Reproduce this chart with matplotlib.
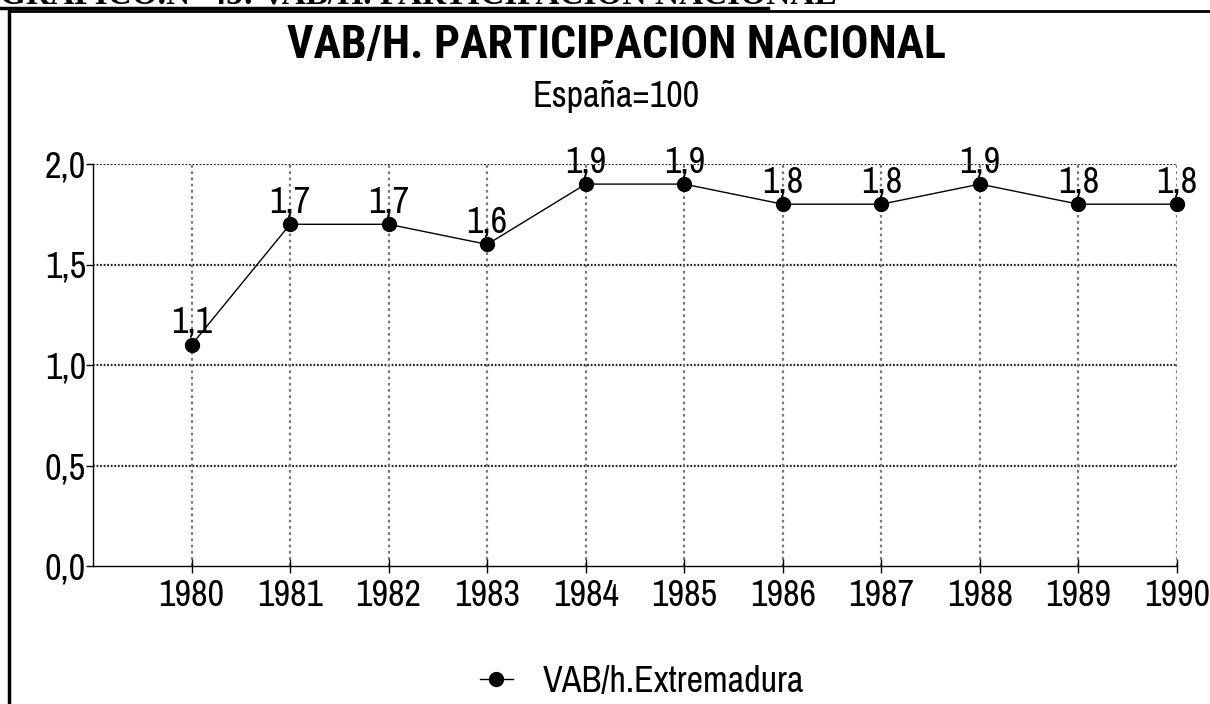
import matplotlib
matplotlib.use("Agg")
import matplotlib.pyplot as plt
from matplotlib.lines import Line2D

years = [1980, 1981, 1982, 1983, 1984, 1985, 1986, 1987, 1988, 1989, 1990]
values = [1.1, 1.7, 1.7, 1.6, 1.9, 1.9, 1.8, 1.8, 1.9, 1.8, 1.8]
yticks = [0.0, 0.5, 1.0, 1.5, 2.0]
ytick_labels = ["0,0", "0,5", "1,0", "1,5", "2,0"]
value_labels = [f"{v:.1f}".replace(".", ",") for v in values]
series_name = "VAB/h.Extremadura"
title = "VAB/H. PARTICIPACION NACIONAL"
subtitle = "España=100"
header = "GRAFICO.Nº 45: VAB/H. PARTICIPACION NACIONAL"

sans = ["Archivo Narrow", "Liberation Sans", "DejaVu Sans"]
sans_bold = ["Roboto Condensed", "PT Sans Narrow", "Liberation Sans", "DejaVu Sans"]
serif = ["Liberation Serif", "DejaVu Serif"]
FS = 26

fig = plt.figure(figsize=(12.1, 7.04), dpi=100)
W, H = 1210, 704

def fx(px):
    return px / W

def fy(py):
    return 1 - py / H

ax = fig.add_axes([fx(93), fy(566), fx(1177) - fx(93), fy(164) - fy(566)])
ax.set_xlim(1979.0, 1990)
ax.set_ylim(0, 2.0)

ax.plot(years, values, color="black", lw=1, marker="o", markersize=10,
        markerfacecolor="black", markeredgecolor="black", zorder=3, clip_on=False)
for x, y, lab in zip(years, values, value_labels):
    ax.annotate(lab, (x, y), xytext=(0, 8.6), textcoords="offset points",
                ha="center", va="baseline", fontsize=FS, family=sans, zorder=4)

ax.set_xticks(years)
ax.set_xticklabels([str(y) for y in years], fontsize=FS, family=sans)
ax.set_yticks(yticks)
ax.set_yticklabels(ytick_labels, fontsize=FS, family=sans)
ax.tick_params(axis="x", direction="inout", length=10, width=1, pad=4)
ax.tick_params(axis="y", direction="out", length=5, width=1, pad=0)

for yv in yticks[1:]:
    ax.axhline(yv, color="#222222", lw=1.6, ls=(0, (0.8, 0.8)), zorder=1)
for xv in years:
    ax.axvline(xv, color="#777777", lw=1.6, ls=(0, (1.2, 1.6)), zorder=1)

ax.spines["top"].set_visible(False)
ax.spines["right"].set_visible(False)
ax.spines["left"].set_linewidth(1)
ax.spines["bottom"].set_linewidth(1)

# Titles
fig.text(fx(616), fy(58), title, ha="center", va="baseline", fontsize=33,
         fontweight="bold", family=sans_bold)
fig.text(fx(616), fy(107), subtitle, ha="center", va="baseline", fontsize=26,
         family=sans)

# Header (clipped at top)
fig.text(fx(0), fy(4), header, ha="left", va="baseline", fontsize=24,
         fontweight="bold", family=serif)
fig.add_artist(Line2D([0, fx(768)], [fy(7.5), fy(7.5)], color="black", lw=2.5,
                      transform=fig.transFigure))
# Frame
fig.add_artist(Line2D([fx(9), 1], [fy(11), fy(11)], color="black", lw=2,
                      transform=fig.transFigure))
fig.add_artist(Line2D([fx(9), fx(9)], [fy(11), 0], color="black", lw=2.5,
                      transform=fig.transFigure))

# Legend
handle = Line2D([], [], color="black", lw=1, marker="o", markersize=10,
                markerfacecolor="black")
leg = fig.legend([handle], [series_name], loc="center left",
                 bbox_to_anchor=(fx(480), fy(681)), borderaxespad=0, borderpad=0,
                 frameon=False, prop={"family": sans, "size": FS},
                 handlelength=0.9, handletextpad=0.85)

fig.savefig("out.png", dpi=100)
